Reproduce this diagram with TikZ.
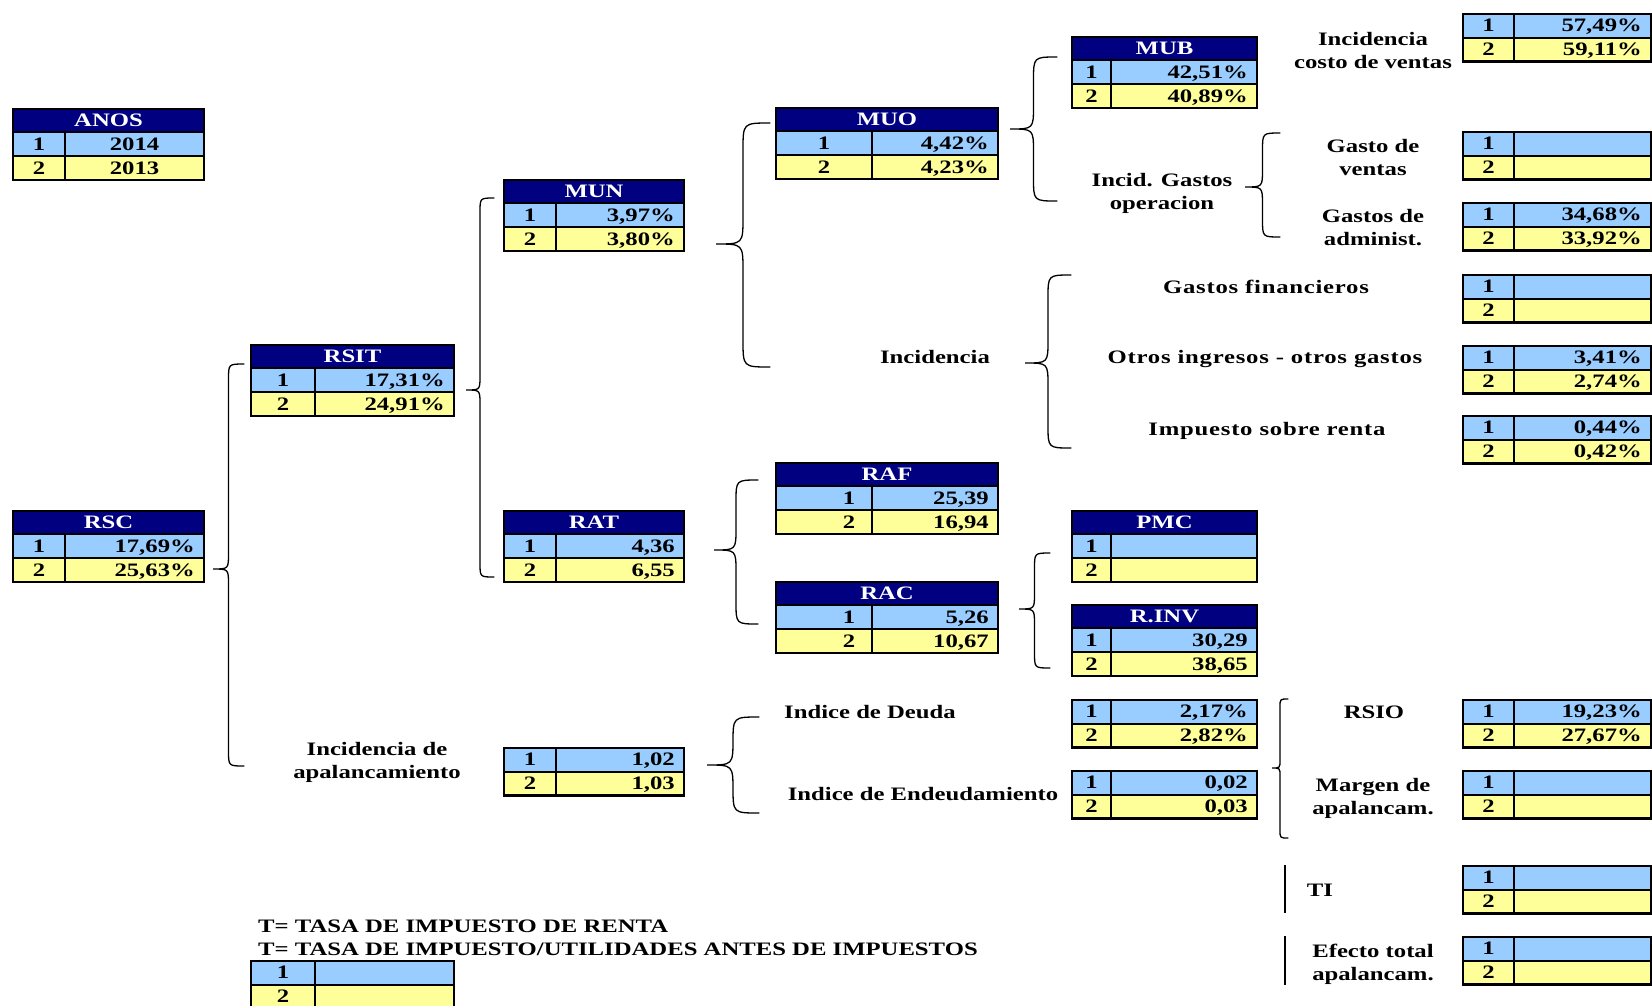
\documentclass[tikz,border=0pt]{standalone}
\usepackage{tikz}
\usepackage{fontspec}
\newfontfamily\tf{Liberation Serif}[FakeStretch=1.3]
\newfontfamily\tfs{Liberation Serif}[FakeStretch=1.3,LetterSpace=4]
\definecolor{navy}{RGB}{0,0,128}
\definecolor{lblue}{RGB}{153,204,255}
\definecolor{lyellow}{RGB}{255,255,153}
\tikzset{
  thickl/.style={line width=2.6pt},
  thinl/.style={line width=1.6pt},
  brcl/.style={line width=1.3pt, line cap=round},
  barl/.style={line width=2.6pt},
  txt/.style={font=\tf\bfseries\fontsize{19}{23}\selectfont, text height=12pt, text depth=0pt, inner sep=0pt},
  stxt/.style={txt, font=\tfs\bfseries\fontsize{19}{23}\selectfont},
  hdrtxt/.style={txt, text=white},
}
% header table: name, xl, xdiv, xr, ytop, header, v1, v2, index-x
\newcommand\htab[9]{%
  \fill[navy] (#2,#5) rectangle (#4,{#5+23});
  \fill[lblue] (#2,{#5+23}) rectangle (#4,{#5+47});
  \fill[lyellow] (#2,{#5+47}) rectangle (#4,{#5+71});
  \draw[thinl] (#2,{#5+23}) -- (#4,{#5+23}) (#2,{#5+47}) -- (#4,{#5+47});
  \draw[thickl] (#3,{#5+23}) -- (#3,{#5+71});
  \draw[thickl] (#2,#5) rectangle (#4,{#5+71});
  \node[hdrtxt] (#1-h) at ({(#2+#4)/2},{#5+11.5}) {#6};
  \node[txt] (#1-i1) at (#9,{#5+35}) {1};
  \node[txt] (#1-i2) at (#9,{#5+59}) {2};
  \node[txt,anchor=east] (#1-v1) at ({#4-9},{#5+35}) {#7};
  \node[txt,anchor=east] (#1-v2) at ({#4-9},{#5+59}) {#8};
}
% plain two-row table: name, xl, xdiv, xr, ytop, v1, v2
\newcommand\ptab[7]{%
  \fill[lblue] (#2,#5) rectangle (#4,{#5+23.75});
  \fill[lyellow] (#2,{#5+23.75}) rectangle (#4,{#5+47.5});
  \draw[thinl] (#2,{#5+23.75}) -- (#4,{#5+23.75});
  \draw[thickl] (#3,#5) -- (#3,{#5+47.5});
  \draw[thickl] (#2,#5) rectangle (#4,{#5+47.5});
  \node[txt] (#1-i1) at ({(#2+#3)/2},{#5+11.9}) {1};
  \node[txt] (#1-i2) at ({(#2+#3)/2},{#5+35.6}) {2};
  \node[txt,anchor=east] (#1-v1) at ({#4-9},{#5+11.9}) {#6};
  \node[txt,anchor=east] (#1-v2) at ({#4-9},{#5+35.6}) {#7};
}
% brace: xr, xl, ytop, ytip, ybot
\newcommand\brc[5]{%
  \draw[brcl] (#1,#3) .. controls ({(#1+#2)/2},#3) .. ({(#1+#2)/2},{#3+(#1-#2)/2})
    -- ({(#1+#2)/2},{#4-(#1-#2)/2}) .. controls ({(#1+#2)/2},#4) .. (#2,#4)
    .. controls ({(#1+#2)/2},#4) .. ({(#1+#2)/2},{#4+(#1-#2)/2})
    -- ({(#1+#2)/2},{#5-(#1-#2)/2}) .. controls ({(#1+#2)/2},#5) .. (#1,#5);
}
\begin{document}
\begin{tikzpicture}[x=1pt,y=-1pt]
\useasboundingbox[fill=white] (0,0) rectangle (1652,1005);
\clip (0,0) rectangle (1652,1005);

% header tables
\htab{anos}{13}{65}{204}{109}{ANOS}{}{}{39}
\node[txt] (anos-c1) at (134.5,144) {2014};
\node[txt] (anos-c2) at (134.5,168) {2013};
\htab{rsc}{13}{65}{204}{511}{RSC}{17,69\%}{25,63\%}{39}
\htab{rsit}{251}{315}{454}{345}{RSIT}{17,31\%}{24,91\%}{283}
\htab{mun}{504}{556}{684}{180}{MUN}{3,97\%}{3,80\%}{530}
\htab{muo}{776}{872}{998}{108}{MUO}{4,42\%}{4,23\%}{824}
\htab{mub}{1072}{1111}{1257}{37}{MUB}{42,51\%}{40,89\%}{1091.5}
\htab{rat}{504}{556}{684}{511}{RAT}{4,36}{6,55}{530}
\htab{raf}{776}{872}{998}{463}{RAF}{25,39}{16,94}{849}
\htab{rac}{776}{872}{998}{582}{RAC}{5,26}{10,67}{849}
\htab{pmc}{1072}{1111}{1257}{511}{PMC}{}{}{1091.5}
\htab{rinv}{1072}{1111}{1257}{605}{R.INV}{30,29}{38,65}{1091.5}

% plain tables
\ptab{apal}{504}{556}{684}{748}{1,02}{1,03}
\ptab{deuda}{1072}{1111}{1257}{700}{2,17\%}{2,82\%}
\ptab{endeu}{1072}{1111}{1257}{771}{0,02}{0,03}
\ptab{costo}{1463}{1514}{1651}{14}{57,49\%}{59,11\%}
\ptab{gvent}{1463}{1514}{1651}{132}{}{}
\ptab{gadm}{1463}{1514}{1651}{203}{34,68\%}{33,92\%}
\ptab{gfin}{1463}{1514}{1651}{275}{}{}
\ptab{otros}{1463}{1514}{1651}{346}{3,41\%}{2,74\%}
\ptab{impr}{1463}{1514}{1651}{416}{0,44\%}{0,42\%}
\ptab{rsio}{1463}{1514}{1651}{700}{19,23\%}{27,67\%}
\ptab{marg}{1463}{1514}{1651}{771}{}{}
\ptab{ti}{1463}{1514}{1651}{866}{}{}
\ptab{efec}{1463}{1514}{1651}{937}{}{}
\ptab{ttab}{251}{315}{454}{961}{}{}

% labels
\node[txt,align=center] (l-costo) at (1373,62.5) {Incidencia\\costo de ventas};
\node[txt,align=center] (l-gvent) at (1373,169) {Gasto de\\ventas};
\node[txt,align=center] (l-gadm) at (1373,239.5) {Gastos de\\administ.};
\node[stxt] (l-gfin) at (1266,287) {Gastos financieros};
\node[stxt] (l-otros) at (1265,357) {Otros ingresos - otros gastos};
\node[stxt] (l-impr) at (1267,429) {Impuesto sobre renta};
\node[txt] (l-inc) at (935,357) {Incidencia};
\node[txt,align=center] (l-igo) at (1162,203.5) {Incid. Gastos\\operacion};
\node[txt,align=center] (l-apal) at (377,772) {Incidencia de\\apalancamiento};
\node[txt] (l-deuda) at (870,712) {Indice de Deuda};
\node[txt] (l-endeu) at (923,794) {Indice de Endeudamiento};
\node[txt] (l-rsio) at (1374,712) {RSIO};
\node[txt,align=center] (l-marg) at (1373,808.5) {Margen de\\apalancam.};
\node[txt] (l-ti) at (1320,890) {TI};
\node[txt,align=center] (l-efec) at (1373,974) {Efecto total\\apalancam.};
\node[txt,anchor=west] (l-t1) at (258,926) {T= TASA DE IMPUESTO DE RENTA};
\node[txt,anchor=west] (l-t2) at (258,949) {T= TASA DE IMPUESTO/UTILIDADES ANTES DE IMPUESTOS};

% braces
\brc{244}{213}{364}{569}{766}
\brc{494}{466}{198}{390}{577}
\brc{770}{716}{123}{244}{367}
\brc{1057}{1010}{57}{129}{201}
\brc{1280}{1245}{133}{187}{237}
\brc{1071}{1025}{275}{363}{448}
\brc{758}{714}{480}{550}{624}
\brc{1050}{1019}{553}{609}{668}
\brc{759}{707}{717}{765}{813}
\brc{1288}{1272}{699}{768}{838}

% bars
\coordinate (b1t) at (1285,865);
\coordinate (b1b) at (1285,913);
\coordinate (b2t) at (1285,936);
\coordinate (b2b) at (1285,985);
\draw[barl] (b1t) -- (b1b);
\draw[barl] (b2t) -- (b2b);
\end{tikzpicture}
\end{document}
